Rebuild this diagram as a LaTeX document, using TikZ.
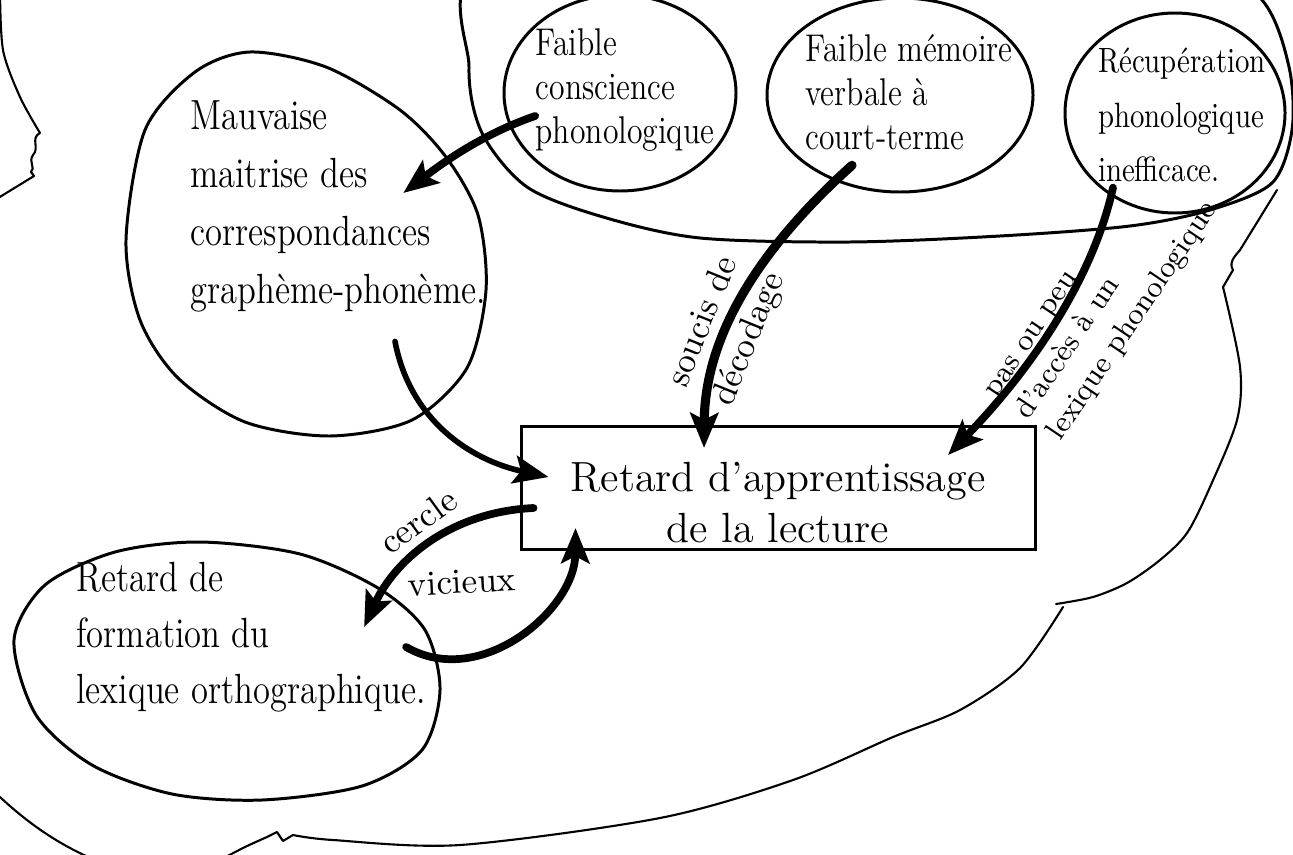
\documentclass[tikz,border=0pt]{standalone}
\usepackage{tikz}
\usetikzlibrary{arrows.meta}

\tikzset{
	pen/.style={line width=0.85pt, line cap=round, line join=round},
	thinpen/.style={line width=0.6pt, line cap=round, line join=round},
	fat/.style={line width=2.2pt, line cap=round, -{Stealth[length=10pt,width=8pt,inset=2pt]}},
	idea/.style={align=left, xscale=0.82, inner sep=0pt},
	tag/.style={align=left, inner sep=0pt, font=\fontsize{10}{11.5}\selectfont},
	box/.style={draw, line width=0.85pt, minimum width=51.4mm, inner ysep=0pt,
		text height=11.6mm, text depth=0.7mm, align=center, font=\fontsize{12}{14.5}\selectfont}
}

\begin{document}
\begin{tikzpicture}[x=0.1mm,y=-0.1mm]
		%%%%% START %%%%%
		\useasboundingbox (0,0) rectangle (1293,854);
		\clip (0,0) rectangle (1293,854);
		
		% outline
		\draw[thinpen] plot[smooth] coordinates {(0,-10) (3,50) (20,97) (40,133)}
			.. controls (30,138) and (40,148) .. (33,155) .. controls (28,162) and (36,168) .. (31,172) -- (34,176) -- (-10,203);
		\draw[thinpen] (0,797) .. controls (30,825) and (60,845) .. (95,860);
		\draw[thinpen] plot[smooth] coordinates {(220,860) (245,847) (267,837)} -- (277,832) -- (283,841) -- (293,835)
			-- plot[smooth] coordinates {(293,835) (333,840) (460,845) (660,818) (793,780) (893,737) (960,710) (1020,668) (1063,607)};
		\draw[thinpen] plot[smooth] coordinates {(1056,604) (1093,597) (1127,583) (1160,560) (1187,533) (1210,487) (1237,420) (1240,367) (1223,287)}
			-- (1233,270) .. controls (1228,262) and (1236,255) .. (1240,250) -- (1277,190);
		
		% top group
		\draw[pen] plot[smooth cycle] coordinates {(486,-40) (469,67) (482,133) (527,187) (603,217) (700,238) (850,242)
			(1000,236) (1130,226) (1210,210) (1272,183) (1292,130) (1289,67) (1262,0) (1180,-60) (800,-90)};
		\draw[pen] (620,93) ellipse [x radius=116, y radius=98];
		\draw[pen] (900,95) ellipse [x radius=133, y radius=97];
		\draw[pen] (1175,113) ellipse [x radius=110, y radius=100];
		
		% left circles
		\draw[pen] plot[smooth cycle] coordinates {(250,52) (326,67) (400,110) (446,157) (478,215) (486,290) (467,368)
			(412,420) (330,436) (245,422) (178,378) (140,320) (126,240) (145,130) (195,72)};
		\draw[pen] plot[smooth cycle] coordinates {(14,640) (45,585) (115,552) (200,542) (300,554) (378,588) (425,630)
			(440,690) (422,750) (362,786) (262,800) (172,794) (92,765) (36,715)};
		
		% texts
		\node[idea, font=\fontsize{11}{12.5}\selectfont] (conscience) at (625,90) {Faible\\conscience\\phonologique};
		\node[idea, font=\fontsize{11}{12.5}\selectfont] (memoire) at (909,92) {Faible mémoire\\verbale à\\court-terme};
		\node[idea, font=\fontsize{10}{15.5}\selectfont] (recup) at (1182,115) {Récupération\\phonologique\\inefficace.};
		\node[idea, font=\fontsize{12}{16.5}\selectfont] (mauvaise) at (338,206) {Mauvaise\\maitrise des\\correspondances\\graphème-phonème.};
		\node[idea, font=\fontsize{12}{16}\selectfont] (formation) at (251,637) {Retard de\\formation du\\lexique orthographique.};
		\node[box] (retard) at (778,488) {Retard d'apprentissage\\de la lecture};
		
		% arrows
		\draw[fat] ([shift={(0,26)}]conscience.west) .. controls (480,135) and (440,165) .. ([shift={(-83,-13)}]mauvaise.east);
		\draw[fat, line width=1.6pt] ([shift={(57,29)}]mauvaise.south) .. controls (410,420) and (470,460) .. ([shift={(29,-11)}]retard.west);
		\draw[fat, line width=2.6pt] ([shift={(-57,15)}]memoire.south) .. controls (780,230) and (705,320) .. ([shift={(-74,23)}]retard.north);
		\draw[fat] ([shift={(-69,5)}]recup.south) .. controls (1095,270) and (1040,360) .. ([shift={(170,30)}]retard.north);
		\draw[fat] ([shift={(14,20)}]retard.west) .. controls (450,512) and (395,560) .. ([shift={(-62,-10)}]formation.east);
		\draw[fat] ([shift={(-20,10)}]formation.east) .. controls (480,690) and (575,610) .. ([shift={(56,40)}]retard.west);
		
		% labels
		\node[tag, rotate=68, font=\fontsize{10}{14}\selectfont] (soucis) at (727,330) {soucis de\\décodage};
		\node[tag, rotate=56, font=\fontsize{8.5}{11}\selectfont] (acces) at (1104,302) {pas ou peu\\d'accès à un\\lexique phonologique};
		\node[tag, rotate=36] (cercle) at (418,521) {cercle};
		\node[tag, rotate=3] (vicieux) at (462,582) {vicieux};
		%%%%% END %%%%%
\end{tikzpicture}
\end{document}
